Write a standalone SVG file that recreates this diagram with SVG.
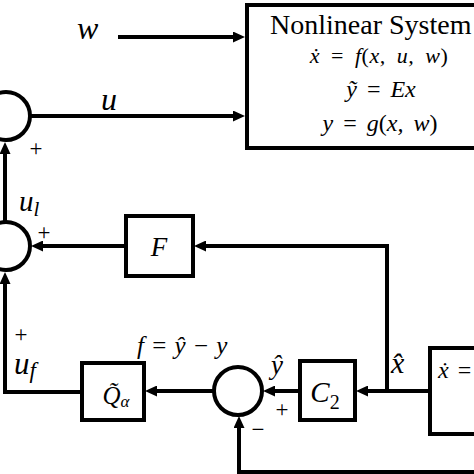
<svg xmlns="http://www.w3.org/2000/svg" width="474" height="474" viewBox="0 0 474 474">
<defs>
<marker id="ah" markerUnits="userSpaceOnUse" markerWidth="12" markerHeight="11" refX="3" refY="5.5" orient="auto">
<path d="M0,0 L12,5.5 L0,11 z" fill="#000"/>
</marker>
<style>
.box{fill:#fff;stroke:#000;stroke-width:4}
.sum{fill:#fff;stroke:#000;stroke-width:4}
.wire{fill:none;stroke:#000;stroke-width:4}
.arr{marker-end:url(#ah)}
.m{font-family:"Liberation Serif","DejaVu Serif",serif;font-style:italic;fill:#000}
.r{font-family:"Liberation Serif","DejaVu Serif",serif;fill:#000}
.n{font-style:normal}
.pm{font-family:"Liberation Serif","DejaVu Serif",serif;fill:#000;font-size:23px}
</style>
</defs>
<rect width="474" height="474" fill="#fff"/>
<g id="connectors">
<path class="wire arr" d="M118,37 H236"/>
<path class="wire arr" d="M31,116 H236"/>
<path class="wire arr" d="M5,222 V151"/>
<path class="wire arr" d="M126,246 H40"/>
<path class="wire arr" d="M387,391 V246 H203"/>
<path class="wire arr" d="M430,391 H365"/>
<path class="wire arr" d="M300,391 H272"/>
<path class="wire arr" d="M213,391 H154"/>
<path class="wire arr" d="M82,392 H5 V281"/>
<path class="wire arr" d="M476,472 H239 V425"/>
</g>
<g id="system">
<rect class="box" x="247" y="5" width="240" height="143"/>
<text class="r" x="270" y="34" font-size="28">Nonlinear System</text>
<text class="m" x="379" y="63" font-size="22" text-anchor="middle" word-spacing="5" letter-spacing="0.5">ẋ <tspan class="n">=</tspan> f<tspan class="n">(</tspan>x, u, w<tspan class="n">)</tspan></text>
<text class="m" x="381" y="97" font-size="24" text-anchor="middle" word-spacing="4">ỹ <tspan class="n">=</tspan> Ex</text>
<text class="m" x="380" y="131" font-size="24" text-anchor="middle" word-spacing="4">y <tspan class="n">=</tspan> g<tspan class="n">(</tspan>x, w<tspan class="n">)</tspan></text>
</g>
<g id="observer">
<rect class="box" x="430" y="348" width="60" height="86"/>
<text class="m" x="438" y="378" font-size="24" word-spacing="3">ẋ <tspan class="n">=</tspan></text>
</g>
<g id="sum1">
<circle class="sum" cx="6" cy="116" r="24"/>
<text class="pm" x="36" y="156" text-anchor="middle">+</text>
</g>
<g id="sum2">
<circle class="sum" cx="6" cy="246" r="24"/>
<text class="pm" x="44" y="240" text-anchor="middle">+</text>
</g>
<g id="sum3">
<circle class="sum" cx="238" cy="391" r="24"/>
<text class="pm" x="282" y="417" text-anchor="middle">+</text>
<text class="pm" x="258" y="437" text-anchor="middle">−</text>
</g>
<g id="F">
<rect class="box" x="126" y="216" width="67" height="60"/>
<text class="m" x="159" y="256" font-size="27" text-anchor="middle">F</text>
</g>
<g id="C2">
<rect class="box" x="300" y="361" width="55" height="59"/>
<text class="m" x="325" y="402" font-size="29" text-anchor="middle">C<tspan class="n" font-size="20" dy="7">2</tspan></text>
</g>
<g id="Q">
<rect class="box" x="82" y="363" width="62" height="57"/>
<text class="m" x="116" y="404" font-size="25" text-anchor="middle">Q̃<tspan font-size="17" dy="3">α</tspan></text>
</g>
<g id="labels">
<text class="m" x="77" y="39" font-size="32">w</text>
<text class="m" x="101" y="110" font-size="32">u</text>
<text class="m" x="19" y="211" font-size="29">u<tspan font-size="21" dy="5">l</tspan></text>
<text class="pm" x="21" y="342" text-anchor="middle" font-size="19">+</text>
<text class="m" x="14" y="374" font-size="31">u<tspan font-size="23" dy="4">f</tspan></text>
<text class="m" x="137" y="354" font-size="25" word-spacing="2">f <tspan class="n">=</tspan> ŷ <tspan class="n">−</tspan> y</text>
<text class="m" x="271" y="374" font-size="27">ŷ</text>
<text class="m" x="391" y="373" font-size="30">x̂</text>
</g>
</svg>
